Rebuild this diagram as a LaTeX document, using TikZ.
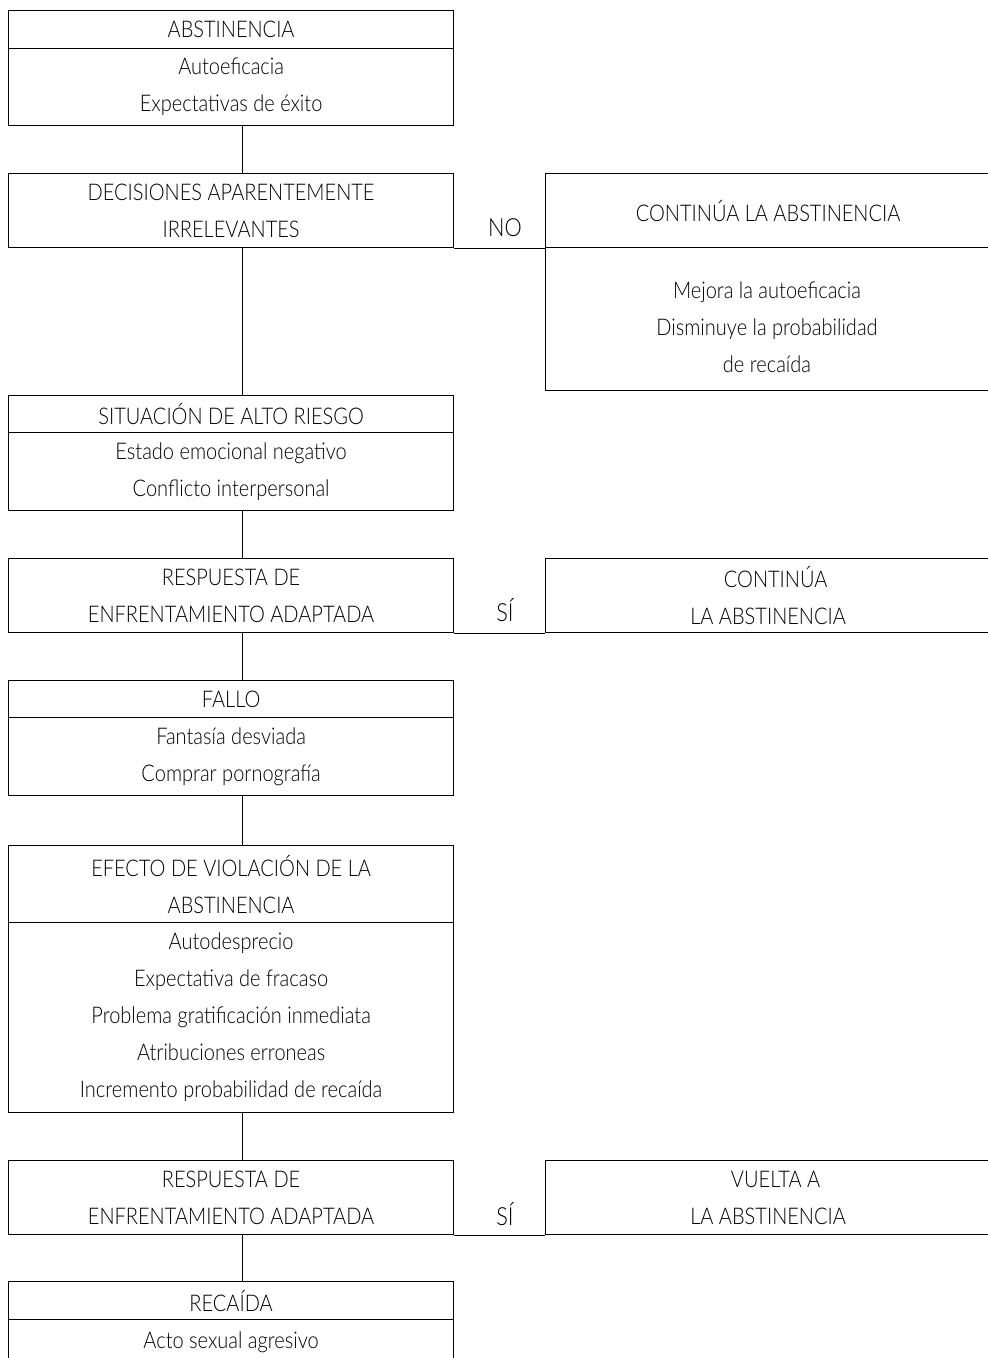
\documentclass[tikz,border=0pt]{standalone}
\usepackage{fontspec}
\setmainfont{Lato}[UprightFont=* Light, FakeStretch=0.87]
\begin{document}
\begin{tikzpicture}[x=1pt,y=-1pt,
  every node/.style={font=\fontsize{23}{37}\selectfont, inner sep=0pt, align=center},
  lbox/.style={draw, line width=1.2pt, minimum width=445pt, anchor=north west},
  rbox/.style={draw, line width=1.2pt, minimum width=460pt, anchor=north west},
  conn/.style={line width=1.2pt},
  lab/.style={font=\fontsize{25}{30}\selectfont}]
\useasboundingbox (0,0) rectangle (988,1358);
% box 1
\node[lbox, minimum height=38pt] (b1t) at (8,10) {ABSTINENCIA};
\node[lbox, minimum height=77pt] (b1b) at (8,48) {Autoeficacia\\Expectativas de éxito};
% box 2
\node[lbox, minimum height=74pt] (b2) at (8,173) {DECISIONES APARENTEMENTE\\IRRELEVANTES};
\node[rbox, minimum height=74pt] (r1t) at (545,173) {CONTINÚA LA ABSTINENCIA\hspace*{15pt}};
\node[rbox, minimum height=143pt] (r1b) at (545,247) {};
\node (r1txt) at (767,327) {Mejora la autoeficacia\\Disminuye la probabilidad\\de recaída};
\node[lab] (no) at (505,228) {NO};
% box 3
\node[lbox, minimum height=37pt] (b3t) at (8,395) {SITUACIÓN DE ALTO RIESGO};
\node[lbox, minimum height=78pt] (b3b) at (8,432) {Estado emocional negativo\\Conflicto interpersonal};
% box 4
\node[lbox, minimum height=74pt] (b4) at (8,558) {RESPUESTA DE\\ENFRENTAMIENTO ADAPTADA};
\node[rbox, minimum height=74pt] (r2) at (545,558) {CONTINÚA\\LA ABSTINENCIA\hspace*{15pt}};
\node[lab] (si1) at (505,610) {SÍ};
% box 5
\node[lbox, minimum height=37pt] (b5t) at (8,680) {FALLO};
\node[lbox, minimum height=78pt] (b5b) at (8,717) {Fantasía desviada\\Comprar pornografía};
% box 6
\node[lbox, minimum height=77pt] (b6t) at (8,845) {EFECTO DE VIOLACIÓN DE LA\\ABSTINENCIA};
\node[lbox, minimum height=190pt] (b6b) at (8,922) {Autodesprecio\\Expectativa de fracaso\\Problema gratificación inmediata\\Atribuciones erroneas\\Incremento probabilidad de recaída};
% box 7
\node[lbox, minimum height=74pt] (b7) at (8,1160) {RESPUESTA DE\\ENFRENTAMIENTO ADAPTADA};
\node[rbox, minimum height=74pt] (r3) at (545,1160) {VUELTA A\\LA ABSTINENCIA\hspace*{15pt}};
\node[lab] (si2) at (505,1214) {SÍ};
% box 8
\node[lbox, minimum height=38pt] (b8t) at (8,1281) {RECAÍDA};
\node[lbox, minimum height=46pt] (b8b) at (8,1319) {Acto sexual agresivo};
% connectors
\tikzset{vc/.style={xshift=11.5pt}}
\draw[conn] ([vc]b1b.south) -- ([vc]b2.north);
\draw[conn] ([vc]b2.south) -- ([vc]b3t.north);
\draw[conn] ([vc]b3b.south) -- ([vc]b4.north);
\draw[conn] ([vc]b4.south) -- ([vc]b5t.north);
\draw[conn] ([vc]b5b.south) -- ([vc]b6t.north);
\draw[conn] ([vc]b6b.south) -- ([vc]b7.north);
\draw[conn] ([vc]b7.south) -- ([vc]b8t.north);
\draw[conn] (b2.south east) -- (r1t.south west);
\draw[conn] (b4.south east) -- (r2.south west);
\draw[conn] (b7.south east) -- (r3.south west);
\end{tikzpicture}
\end{document}
